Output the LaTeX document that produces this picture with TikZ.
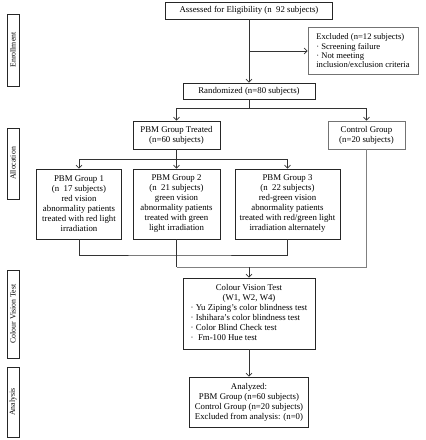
\documentclass[tikz,border=0pt]{standalone}
\usepackage{fontspec}
\setmainfont{Liberation Serif}
\usetikzlibrary{arrows.meta}
\begin{document}
\begin{tikzpicture}[x=1pt,y=-1pt,
  box/.style={draw=black!85, line width=0.75pt, inner sep=1pt, align=center, font=\fontsize{8.8}{10}\selectfont},
  gbox/.style={box, draw=black!55},
  side/.style={draw=black!85, line width=0.75pt, minimum height=12pt, inner sep=0pt, rotate=90, font=\fontsize{7.8}{9}\selectfont},
  ln/.style={draw=black!80, line width=0.65pt},
  gln/.style={draw=black!50, line width=0.65pt},
  arr/.style={ln, -{Straight Barb[length=3pt,width=6pt]}},
]
\useasboundingbox (0,0) rectangle (426,440);

% side labels
\node[side, minimum width=72pt] (senr) at (13,50) {Enrollment};
\node[side, minimum width=71pt] (salloc) at (13,163.5) {Allocation};
\node[side, minimum width=88pt] (scvt) at (13,314) {Colour Vision Test};
\node[side, minimum width=70pt] (sana) at (13,402) {Analysis};

% boxes
\node[box, minimum width=167pt, minimum height=17pt] (assess) at (249,10.5) {Assessed for Eligibility (n\ \ 92 subjects)};
\node[gbox, minimum width=110pt, minimum height=47pt, align=left, inner sep=3pt, font=\fontsize{8.6}{9.3}\selectfont] (excl) at (363,51)
  {Excluded (n=12 subjects)\\ · Screening failure\\ · Not meeting\\ inclusion/exclusion criteria};
\node[box, minimum width=132pt, minimum height=16pt] (rand) at (249,91) {Randomized (n=80 subjects)};
\node[box, minimum width=87pt, minimum height=28pt] (treated) at (176.5,135) {PBM Group Treated\\(n=60 subjects)};
\node[gbox, minimum width=77pt, minimum height=28pt] (control) at (366.5,135) {Control Group\\(n=20 subjects)};
\node[box, minimum width=85pt, minimum height=70pt] (g1) at (79,204) {PBM Group 1\\(n\ \ 17 subjects)\\red vision\\abnormality patients\\treated with red light\\irradiation};
\node[box, minimum width=87pt, minimum height=70pt] (g2) at (176.5,204) {PBM Group 2\\(n\ \ 21 subjects)\\green vision\\abnormality patients\\treated with green\\light irradiation};
\node[box, minimum width=105pt, minimum height=70pt] (g3) at (287.5,204) {PBM Group 3\\(n\ \ 22 subjects)\\red-green vision\\abnormality patients\\treated with red/green light\\irradiation alternately};
\node[box, minimum width=132pt, minimum height=71pt] (cvt) at (249,313.5) {%
  \begin{tabular}{@{}l@{}}
  \multicolumn{1}{@{}c@{}}{Colour Vision Test}\\
  \multicolumn{1}{@{}c@{}}{(W1, W2, W4)}\\
  · Yu Ziping's color blindness test\\
  · Ishihara's color blindness test\\
  · Color Blind Check test\\
  · \ Fm-100 Hue test
  \end{tabular}};
\node[box, minimum width=119pt, minimum height=50pt] (an) at (249,402) {Analyzed:\\PBM Group (n=60 subjects)\\Control Group (n=20 subjects)\\Excluded from analysis: (n=0)};

% junctions
\coordinate (b1) at (249,51);
\coordinate (j1) at (249,108);
\coordinate (j2) at (176.5,159);
\coordinate (j3) at (176.5,255);
\coordinate (j4) at (176.5,267);
\coordinate (j5) at (249,267);

% connectors
\draw[arr] (assess.south) -- (rand.north);
\draw[arr] (b1) -- (excl.west);
\draw[ln] (rand.south) -- (j1);
\draw[arr] (j1) -| (treated.north);
\draw[arr] (j1) -| (control.north);
\draw[ln] (treated.south) -- (j2);
\draw[arr] (j2) -| (g1.north);
\draw[arr] (j2) -- (g2.north);
\draw[arr] (j2) -| (g3.north);
\draw[ln] (g1.south) |- (j3) -| (g3.south);
\draw[ln] (g2.south) -- (j4);
\draw[gln] (j4) -| (control.south);
\draw[arr] (j5) -- (cvt.north);
\draw[arr] (cvt.south) -- (an.north);
\end{tikzpicture}
\end{document}
